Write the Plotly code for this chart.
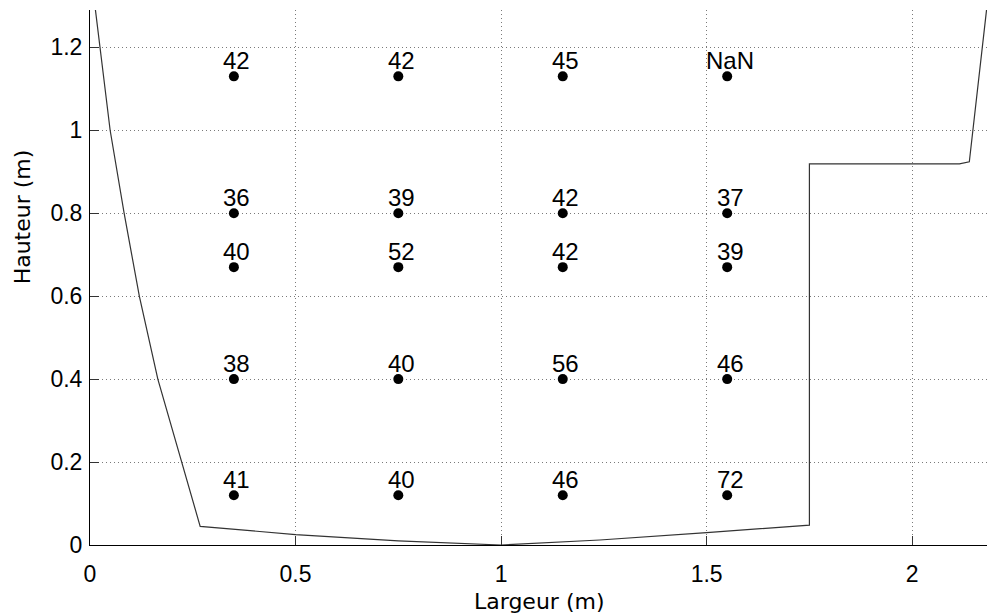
import plotly.graph_objects as go

# Measurement grid
x_positions = [0.35, 0.75, 1.15, 1.55]
y_positions = [1.13, 0.80, 0.67, 0.40, 0.12]
values = [
    ["42", "42", "45", "NaN"],
    ["36", "39", "42", "37"],
    ["40", "52", "42", "39"],
    ["38", "40", "56", "46"],
    ["41", "40", "46", "72"],
]

# Cross-section contour
contour_x = [0.012, 0.024, 0.049, 0.083, 0.12, 0.165, 0.223, 0.268, 0.5, 0.75, 1.0,
             1.24, 1.5, 1.75, 1.75, 2.115, 2.139, 2.182]
contour_y = [1.30, 1.2, 1.0, 0.8, 0.6, 0.4, 0.2, 0.045, 0.025, 0.01, 0.0,
             0.012, 0.03, 0.048, 0.919, 0.919, 0.924, 1.30]

x_ticks = [0, 0.5, 1, 1.5, 2]
x_ticklabels = ["0", "0.5", "1", "1.5", "2"]
y_ticks = [0, 0.2, 0.4, 0.6, 0.8, 1.0, 1.2]
y_ticklabels = ["0", "0.2", "0.4", "0.6", "0.8", "1", "1.2"]

pts_x, pts_y, pts_t = [], [], []
for i, yv in enumerate(y_positions):
    for j, xv in enumerate(x_positions):
        pts_x.append(xv)
        pts_y.append(yv)
        pts_t.append(values[i][j])

fig = go.Figure()
fig.add_trace(go.Scatter(x=contour_x, y=contour_y, mode="lines",
                         line=dict(color="#333333", width=1.2),
                         hoverinfo="skip", showlegend=False))
fig.add_trace(go.Scatter(x=pts_x, y=pts_y, mode="markers",
                         marker=dict(color="black", size=10),
                         showlegend=False))

font_main = "Liberation Sans, Arial, Helvetica, sans-serif"
annotations = []
for xv, yv, t in zip(pts_x, pts_y, pts_t):
    annotations.append(dict(x=xv, y=yv, xref="x", yref="y", text=t, showarrow=False,
                            xshift=3, yshift=16,
                            font=dict(family=font_main, size=24, color="black")))

# axis titles
annotations.append(dict(x=0.5, y=0, xref="paper", yref="paper", text="Largeur (m)",
                        showarrow=False, yshift=-56, yanchor="middle",
                        font=dict(family="DejaVu Sans, sans-serif", size=22, color="black")))
annotations.append(dict(x=0, y=0.79, xref="paper", yref="y", text="Hauteur (m)",
                        showarrow=False, xshift=-68, textangle=-90, xanchor="center",
                        font=dict(family="DejaVu Sans, sans-serif", size=22, color="black")))

fig.update_layout(
    width=987, height=616,
    margin=dict(l=90, r=0, t=10, b=71),
    paper_bgcolor="white", plot_bgcolor="white",
    annotations=annotations,
    font=dict(family=font_main, size=23, color="black"),
    xaxis=dict(range=[0, 2.182], tickvals=x_ticks, ticktext=x_ticklabels,
               showgrid=True, gridcolor="#7a7a7a", griddash="1px,3px", gridwidth=1,
               showline=True, linecolor="black", linewidth=1,
               ticks="inside", ticklen=9, tickcolor="#333333",
               zeroline=False, ticklabelstandoff=8, automargin=False,
               tickfont=dict(size=23)),
    yaxis=dict(range=[0, 1.29], tickvals=y_ticks, ticktext=y_ticklabels,
               showgrid=True, gridcolor="#7a7a7a", griddash="1px,3px", gridwidth=1,
               showline=True, linecolor="black", linewidth=1,
               ticks="inside", ticklen=9, tickcolor="#333333",
               zeroline=False, ticklabelstandoff=2, automargin=False,
               tickfont=dict(size=23)),
)

fig.write_html(
    "out.html",
    config={"displayModeBar": False},
    post_script="document.body.style.margin='0';document.body.style.overflow='hidden';",
)
